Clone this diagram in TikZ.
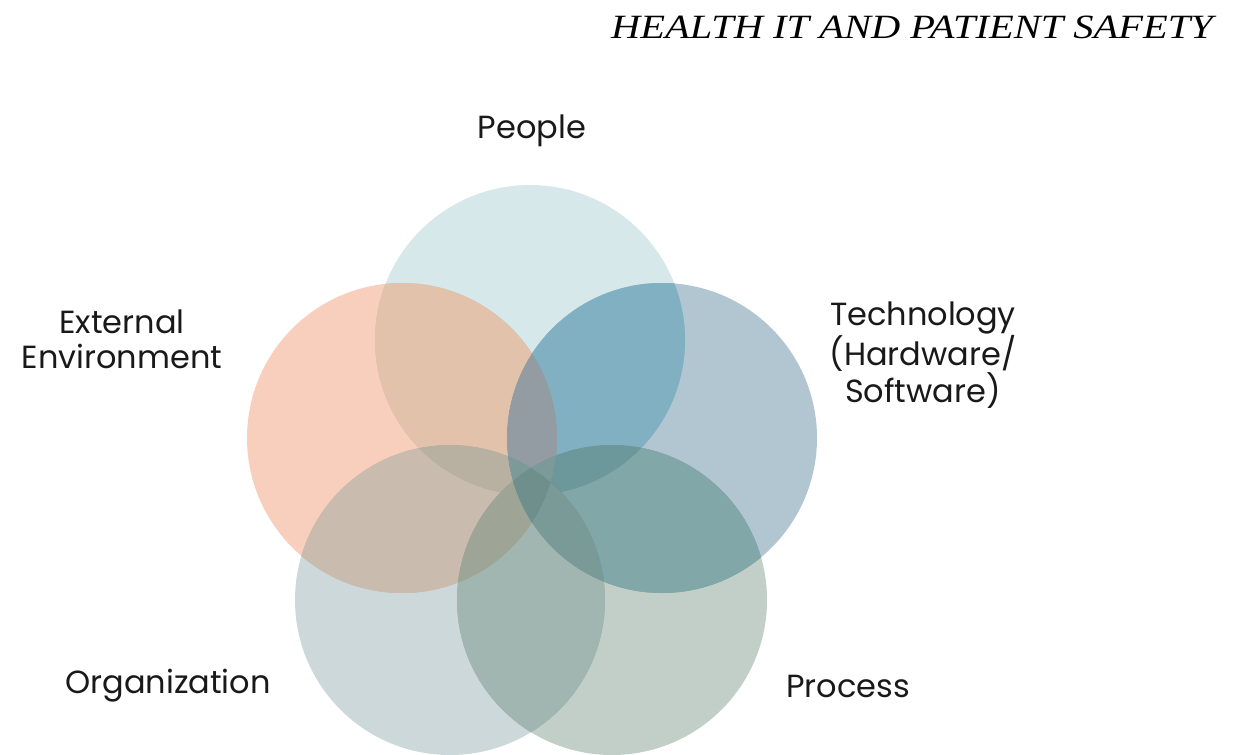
\documentclass[tikz,border=0pt]{standalone}
\usepackage{fontspec}
\setmainfont{Liberation Serif}
\newfontfamily\labelfont{Poppins}
\definecolor{cpeople}{HTML}{D6E8EA}
\definecolor{cext}{HTML}{F8CFBC}
\definecolor{ctech}{HTML}{B2C6D2}
\definecolor{corg}{HTML}{CCD8D9}
\definecolor{cproc}{HTML}{C2CFC9}
\definecolor{cPE}{HTML}{E2C2AB}
\definecolor{cPT}{HTML}{81B0C3}
\definecolor{cPET}{HTML}{939BA3}
\definecolor{cEO}{HTML}{C9BCAE}
\definecolor{cPEO}{HTML}{B8B1A2}
\definecolor{cTR}{HTML}{82A7A8}
\definecolor{cOR}{HTML}{A1B6B1}
\definecolor{cEOR}{HTML}{9FA596}
\definecolor{cTOR}{HTML}{7A9A98}
\definecolor{cPTR}{HTML}{6C979B}
\definecolor{cETx}{HTML}{7D9A9B}
\definecolor{cCore}{HTML}{6E8F8C}
\tikzset{
  venn/.style={circle, minimum size=310pt, inner sep=0pt, draw=none},
  lbl/.style={font=\labelfont\fontsize{32}{35}\selectfont, text=black!90, align=center, inner sep=0pt},
  ttl/.style={font=\fontsize{34}{40}\selectfont\itshape, text=black, inner sep=0pt},
  invclip/.style={insert path={(0,0) rectangle (1243,755)}}
}
\newcommand\inC[1]{\clip (#1.center) circle[radius=155];}
\newcommand\outC[1]{\clip[invclip] (#1.center) circle[radius=155];}
\newcommand\paintall[1]{\fill[#1] (0,0) rectangle (1243,755);}
\begin{document}
\begin{tikzpicture}[x=1pt,y=-1pt]
\useasboundingbox (0,0) rectangle (1243,755);
\clip (0,0) rectangle (1243,755);
\begin{scope}[blend group=multiply]
  \node[venn, fill=cpeople] (people) at (530,340) {};
  \node[venn, fill=cext] (ext) at (402,438) {};
  \node[venn, fill=ctech] (tech) at (662,438) {};
  \node[venn, fill=corg] (org) at (450,600) {};
  \node[venn, fill=cproc] (proc) at (612,600) {};
\end{scope}
% pairwise regions
\begin{scope}\inC{people}\inC{ext}\outC{tech}\outC{org}\outC{proc}\paintall{cPE}\end{scope}
\begin{scope}\inC{people}\inC{tech}\outC{ext}\outC{org}\outC{proc}\paintall{cPT}\end{scope}
\begin{scope}\inC{ext}\inC{org}\outC{people}\outC{tech}\outC{proc}\paintall{cEO}\end{scope}
\begin{scope}\inC{tech}\inC{proc}\outC{people}\outC{ext}\outC{org}\paintall{cTR}\end{scope}
\begin{scope}\inC{org}\inC{proc}\outC{people}\outC{ext}\outC{tech}\paintall{cOR}\end{scope}
% triple and central regions
\begin{scope}\inC{people}\inC{ext}\inC{tech}\outC{org}\outC{proc}\paintall{cPET}\end{scope}
\begin{scope}\inC{people}\inC{ext}\inC{org}\outC{tech}\outC{proc}\paintall{cPEO}\end{scope}
\begin{scope}\inC{ext}\inC{org}\inC{proc}\paintall{cEOR}\end{scope}
\begin{scope}\inC{tech}\inC{org}\inC{proc}\paintall{cTOR}\end{scope}
\begin{scope}\inC{people}\inC{tech}\inC{proc}\outC{ext}\outC{org}\paintall{cPTR}\end{scope}
\begin{scope}\inC{ext}\inC{tech}\inC{org}\paintall{cETx}\end{scope}
\begin{scope}\inC{ext}\inC{tech}\inC{proc}\paintall{cETx}\end{scope}
\begin{scope}\inC{ext}\inC{tech}\inC{org}\inC{proc}\paintall{cCore}\end{scope}
\node[ttl, anchor=base east] (title) at (1213,38) {\scalebox{1.19}[1]{HEALTH IT AND PATIENT SAFETY}};
\node[lbl] (lpeople) at (532,131) {People};
\node[lbl] (lext) at (122,339) {External\\Environment};
\node[lbl] (ltech) at (923,355) {Technology\\(Hardware/\\Software)};
\node[lbl] (lorg) at (168,686) {Organization};
\node[lbl] (lproc) at (848,686) {Process};
\end{tikzpicture}
\end{document}
